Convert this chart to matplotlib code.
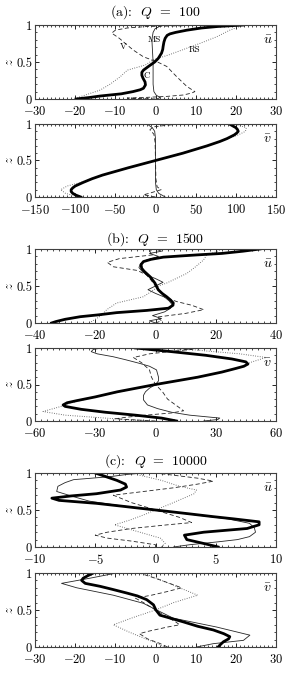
import matplotlib
matplotlib.use("Agg")
import matplotlib.pyplot as plt
from matplotlib.ticker import MultipleLocator

plt.rcParams['font.family'] = 'serif'
plt.rcParams['font.serif'] = ['cmr10', 'DejaVu Serif']
plt.rcParams['mathtext.fontset'] = 'cm'
plt.rcParams['axes.formatter.use_mathtext'] = True

# ---- (a) Q = 100, u ----
au_C_z = [0, 0.02, 0.04, 0.07, 0.1, 0.125, 0.145, 0.19, 0.23, 0.28, 0.32, 0.36, 0.39, 0.45, 0.5, 0.55, 0.62, 0.67, 0.71, 0.77, 0.82, 0.86, 0.88, 0.9, 0.93, 0.96, 0.98, 1.0]
au_C_x = [-19.8, -16.5, -13.8, -8.5, -5.6, -3.8, -3.0, -2.5, -2.6, -3.1, -3.4, -3.4, -3.0, -1.5, -0.2, 0.7, 1.5, 1.8, 1.9, 2.1, 2.4, 2.9, 3.6, 5.0, 7.8, 11.5, 15.5, 21.9]
au_MS_z = [0, 0.02, 0.05, 0.1, 0.2, 0.3, 0.4, 0.5, 0.6, 0.7, 0.8, 0.9, 0.95, 0.98, 1.0]
au_MS_x = [0.3, 1.2, 0.2, -0.4, -0.6, -0.6, -0.6, -0.6, -0.7, -0.8, -0.9, -0.6, -0.1, 1.0, 0.5]
au_V_z = [0, 0.012, 0.02, 0.035, 0.054, 0.08, 0.1, 0.17, 0.3, 0.44, 0.5, 0.57, 0.66, 0.75, 0.82, 0.89, 0.93, 0.96, 0.98, 0.99, 1.0]
au_V_x = [0, -7, -3, 2.8, 6.9, 9, 9.8, 7.8, 5.3, 2.8, 0.5, -3.0, -5.5, -7.5, -9, -10.9, -10, -7, -2, 7, 0]
au_RS_z = [0, 0.03, 0.12, 0.2, 0.3, 0.39, 0.46, 0.53, 0.6, 0.66, 0.75, 0.84, 0.93, 0.98, 1.0]
au_RS_x = [-20, -18.8, -13.8, -11.3, -8.8, -7.0, -2.5, -0.5, 3.5, 6.5, 11, 15.2, 18.5, 21, 22]

# ---- (a) Q = 100, v ----
av_C_z = [0, 0.025, 0.05, 0.075, 0.1, 0.125, 0.15, 0.2, 0.25, 0.3, 0.4, 0.5, 0.6, 0.7, 0.76, 0.8, 0.85, 0.875, 0.9, 0.925, 0.95, 0.975, 1.0]
av_C_x = [-93, -99, -103, -105, -105, -103, -100, -90, -79, -66, -34, 0, 34, 64, 80, 89, 98, 101, 103, 102, 100, 96, 92]
av_MS_z = [0, 0.02, 0.05, 0.1, 0.2, 0.5, 0.8, 0.9, 0.95, 0.98, 1.0]
av_MS_x = [12, 9, 4, 1, 0, 0, 0, -1, -4, -8, -10]
av_V_z = [0, 0.03, 0.05, 0.1, 0.14, 0.25, 0.5, 0.75, 0.86, 0.92, 0.96, 0.98, 0.995, 1.0]
av_V_x = [0, -15, -8, 7, 2, 0.5, 0, -0.5, -2, -7, -3, 12, 25, 0]
av_RS_z = [0, 0.05, 0.1, 0.15, 0.2, 0.3, 0.5, 0.7, 0.8, 0.85, 0.9, 0.95, 1.0]
av_RS_x = [-95, -112, -118, -110, -93, -66, 0, 64, 90, 103, 112, 113, 98]

# ---- (b) Q = 1500, u ----
bu_C_z = [0, 0.02, 0.05, 0.085, 0.11, 0.14, 0.17, 0.2, 0.24, 0.27, 0.31, 0.355, 0.4, 0.45, 0.54, 0.625, 0.7, 0.74, 0.79, 0.83, 0.86, 0.89, 0.905, 0.92, 0.94, 0.97, 1.0]
bu_C_x = [-34.5, -33, -30, -25, -19, -12.9, -2.9, 4.3, 5.8, 5.9, 5, 3.7, 2.2, 0.9, -0.2, -1.8, -3.8, -4.6, -4.8, -4.0, -1.5, 2.6, 8, 13.7, 22, 29, 34.7]
bu_MS_z = [0, 0.03, 0.06, 0.1, 0.15, 0.2, 0.25, 0.3, 0.35, 0.4, 0.45, 0.5, 0.55, 0.6, 0.65, 0.7, 0.75, 0.8, 0.85, 0.9, 0.94, 0.97, 1.0]
bu_MS_x = [0, -2, 2, -1, 3, 5, 5.5, 4.5, 3, 0, -2.5, 0, 2.5, 0, -3, -4.5, -5.5, -5, -3, 1, -2, 2, 0]
bu_V_z = [0, 0.03, 0.08, 0.13, 0.18, 0.24, 0.29, 0.35, 0.42, 0.5, 0.58, 0.65, 0.71, 0.76, 0.82, 0.87, 0.92, 0.97, 1.0]
bu_V_x = [0, 2, 0.5, 10, 16, 12, 7, 3, 1.5, 0, -1.5, -3, -6, -14, -16, -12, -1, -2, 0]
bu_RS_z = [0, 0.05, 0.1, 0.18, 0.27, 0.355, 0.45, 0.5, 0.54, 0.67, 0.75, 0.85, 0.92, 0.96, 1.0]
bu_RS_x = [-22, -20, -18, -16.2, -12.9, -4, -0.5, 1, 3.7, 10.4, 13, 15.9, 17, 20, 22]

# ---- (b) Q = 1500, v ----
bv_C_z = [0, 0.04, 0.08, 0.12, 0.16, 0.2, 0.22, 0.25, 0.28, 0.33, 0.4, 0.5, 0.6, 0.67, 0.72, 0.75, 0.78, 0.81, 0.85, 0.9, 0.95, 1.0]
bv_C_x = [10.5, 3, -10, -25, -37, -45, -46, -44, -39, -30, -19, 0, 21, 33, 40, 44, 46, 45, 38, 25, 8, -10]
bv_MS_z = [0, 0.02, 0.04, 0.08, 0.12, 0.17, 0.22, 0.29, 0.35, 0.4, 0.45, 0.5, 0.55, 0.6, 0.65, 0.7, 0.75, 0.79, 0.84, 0.88, 0.92, 0.95, 0.98, 1.0]
bv_MS_x = [24, 31, 32, 17, 8, 1, -4, -6, -6, -5, -3, 0, 1.5, 1.5, 1, 0.5, -3, -8, -15, -21, -29, -32, -31, -27]
bv_V_z = [0, 0.03, 0.05, 0.08, 0.11, 0.14, 0.2, 0.3, 0.4, 0.5, 0.6, 0.7, 0.8, 0.87, 0.92, 0.96, 0.98, 1.0]
bv_V_x = [0, -20, -15, -5, 8, 14, 11, 6, 3.5, 0, -2, -3, -7, -11, -3, 10, 18, 0]
bv_RS_z = [0, 0.04, 0.08, 0.13, 0.2, 0.25, 0.33, 0.4, 0.5, 0.6, 0.67, 0.75, 0.8, 0.87, 0.92, 0.96, 1.0]
bv_RS_x = [-5, -25, -45, -56, -47, -42, -30, -18, 0, 20, 33, 44, 47, 55, 42, 25, 10]

# ---- (c) Q = 10000, u ----
cu_C_z = [0, 0.04, 0.1, 0.16, 0.2, 0.25, 0.3, 0.34, 0.38, 0.41, 0.45, 0.5, 0.55, 0.59, 0.63, 0.66, 0.69, 0.72, 0.77, 0.81, 0.85, 0.9, 0.95, 1.0]
cu_C_x = [5.2, 4.2, 2.6, 2.4, 4, 7.6, 8.6, 8.6, 6.5, 4.8, 2.7, 0, -2.7, -4.9, -8, -8.6, -7, -4.9, -2.9, -2.4, -2.5, -3.2, -4.1, -5.0]
cu_MS_z = [0, 0.03, 0.07, 0.1, 0.14, 0.2, 0.26, 0.32, 0.38, 0.44, 0.5, 0.56, 0.62, 0.68, 0.75, 0.82, 0.87, 0.91, 0.95, 0.98, 1.0]
cu_MS_x = [1.5, 2.8, 5.2, 6.8, 7.8, 8.3, 8.2, 7.8, 6, 3, 0, -3, -5.5, -6.8, -8.2, -8.1, -7.5, -6.8, -3.8, -2.4, -1.0]
cu_V_z = [0, 0.03, 0.08, 0.12, 0.16, 0.2, 0.25, 0.3, 0.33, 0.4, 0.5, 0.6, 0.7, 0.75, 0.8, 0.85, 0.89, 0.93, 0.97, 1.0]
cu_V_x = [0, 0, -2, -4, -5, -4, -2, 1, 3, 2, 0, -2, -3.5, -1, 1.5, 3.5, 4.8, 3.5, 1.5, 0]
cu_RS_z = [0, 0.05, 0.12, 0.2, 0.3, 0.36, 0.42, 0.5, 0.58, 0.65, 0.72, 0.77, 0.82, 0.9, 0.97, 1.0]
cu_RS_x = [0.5, 0.8, 0.4, -1.3, -3.4, -2.2, -1.2, 0, 1.2, 2.2, 3.2, 3.4, 2, 0.5, -1.3, -1.0]

# ---- (c) Q = 10000, v ----
cv_C_z = [0, 0.035, 0.07, 0.11, 0.14, 0.18, 0.23, 0.28, 0.34, 0.43, 0.5, 0.57, 0.64, 0.69, 0.73, 0.78, 0.82, 0.86, 0.9, 0.93, 0.965, 1.0]
cv_C_x = [15.6, 16.2, 16.9, 18.2, 18.5, 17, 14.4, 10.5, 6.9, 1.1, 0.1, -0.5, -2.2, -4.5, -7.2, -10.8, -13.8, -17.5, -18.4, -18, -16.8, -15.5]
cv_MS_z = [0, 0.045, 0.09, 0.16, 0.27, 0.39, 0.5, 0.59, 0.7, 0.8, 0.86, 0.93, 1.0]
cv_MS_x = [10.2, 14.4, 21.9, 23.5, 15.2, 4.4, 0.3, -3, -10.5, -19.6, -23.4, -16.3, -9.7]
cv_V_z = [0, 0.05, 0.11, 0.18, 0.21, 0.27, 0.3, 0.34, 0.4, 0.5, 0.6, 0.66, 0.7, 0.75, 0.8, 0.9, 1.0]
cv_V_x = [3, 1, -2, -4, -2, 3, 6, 5, 3, 0, -3, -5, -1, 3, 6.5, 1.5, -4]
cv_RS_z = [0, 0.05, 0.1, 0.2, 0.3, 0.4, 0.5, 0.6, 0.7, 0.8, 0.9, 1.0]
cv_RS_x = [2, 0.5, -2, -6.5, -10.5, -5.5, 0, 4.5, 10.5, 6, 1.5, -3]

panels = [
    dict(C=(au_C_x, au_C_z), MS=(au_MS_x, au_MS_z), V=(au_V_x, au_V_z), RS=(au_RS_x, au_RS_z),
         xlim=(-30, 30), major=10, minor=1, label=r'$\bar{u}$', rect=(25, 99)),
    dict(C=(av_C_x, av_C_z), MS=(av_MS_x, av_MS_z), V=(av_V_x, av_V_z), RS=(av_RS_x, av_RS_z),
         xlim=(-150, 150), major=50, minor=5, label=r'$\bar{v}$', rect=(124, 197)),
    dict(C=(bu_C_x, bu_C_z), MS=(bu_MS_x, bu_MS_z), V=(bu_V_x, bu_V_z), RS=(bu_RS_x, bu_RS_z),
         xlim=(-40, 40), major=20, minor=2, label=r'$\bar{u}$', rect=(249, 323)),
    dict(C=(bv_C_x, bv_C_z), MS=(bv_MS_x, bv_MS_z), V=(bv_V_x, bv_V_z), RS=(bv_RS_x, bv_RS_z),
         xlim=(-60, 60), major=30, minor=3, label=r'$\bar{v}$', rect=(348, 421)),
    dict(C=(cu_C_x, cu_C_z), MS=(cu_MS_x, cu_MS_z), V=(cu_V_x, cu_V_z), RS=(cu_RS_x, cu_RS_z),
         xlim=(-10, 10), major=5, minor=0.5, label=r'$\bar{u}$', rect=(473, 547)),
    dict(C=(cv_C_x, cv_C_z), MS=(cv_MS_x, cv_MS_z), V=(cv_V_x, cv_V_z), RS=(cv_RS_x, cv_RS_z),
         xlim=(-30, 30), major=10, minor=1, label=r'$\bar{v}$', rect=(573, 647)),
]

titles = [r'(a):  $Q\;\,=\;\,100$', r'(b):  $Q\;\,=\;\,1500$', r'(c):  $Q\;\,=\;\,10000$']
title_y = [12, 239, 461]

W, H = 299, 675
fig = plt.figure(figsize=(W / 100, H / 100), dpi=100)

axes = []
for p in panels:
    top, bot = p['rect']
    ax = fig.add_axes([35 / W, 1 - bot / H, 241 / W, (bot - top) / H])
    ax.plot(*p['RS'], color='0.35', lw=0.7, ls=(0, (0.8, 1.6)))
    ax.plot(*p['V'], color='0.15', lw=0.6, ls=(0, (5, 3)))
    ax.plot(*p['MS'], color='0.15', lw=0.6)
    ax.plot(*p['C'], color='black', lw=2.0, solid_joinstyle='round')
    ax.set_xlim(*p['xlim'])
    ax.set_ylim(0, 1)
    ax.xaxis.set_major_locator(MultipleLocator(p['major']))
    ax.xaxis.set_minor_locator(MultipleLocator(p['minor']))
    ax.set_yticks([0, 0.5, 1])
    ax.set_yticklabels(['0', '0.5', '1'])
    ax.yaxis.set_minor_locator(MultipleLocator(0.1))
    ax.tick_params(which='both', direction='in', top=True, right=True, labelsize=9)
    ax.tick_params(axis='x', pad=4.5)
    ax.tick_params(axis='y', pad=2)
    ax.tick_params(which='major', length=3, width=0.6)
    ax.tick_params(which='minor', length=1.3, width=0.5)
    # the "0" label sits a touch higher so it clears the first x label
    ax.get_yticklabels()[0].set_va('center_baseline')
    for s in ax.spines.values():
        s.set_linewidth(0.8)
        s.set_color('0.25')
    ax.set_ylabel(r'$z$', fontsize=9, labelpad=0)
    ax.text(0.965, 0.78, p['label'], transform=ax.transAxes, fontsize=10,
            ha='center', va='center')
    axes.append(ax)

# curve labels in the first panel
ax0 = axes[0]
ax0.text(-0.4, 0.8, 'MS', fontsize=6.5, ha='center', va='center')
ax0.text(-8, 0.71, 'V', fontsize=6.5, ha='center', va='center')
ax0.text(9.8, 0.66, 'RS', fontsize=6.5, ha='center', va='center')
ax0.text(-2.2, 0.32, 'C', fontsize=6.5, ha='center', va='center')

for t, y in zip(titles, title_y):
    fig.text(155.5 / W, 1 - y / H, t, fontsize=10, ha='center', va='center')

fig.savefig('out.png', dpi=100)
